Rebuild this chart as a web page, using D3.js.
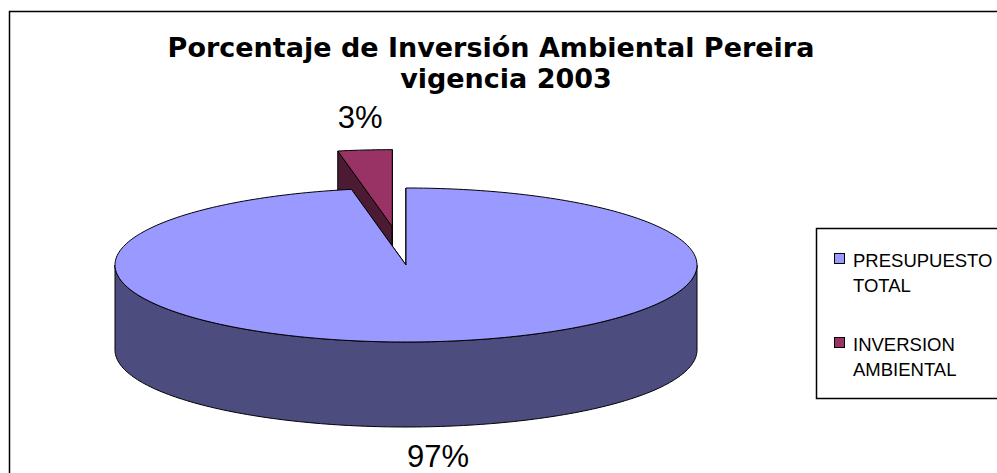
<!DOCTYPE html>
<html>
<head>
<meta charset="utf-8">
<script src="https://cdn.jsdelivr.net/npm/d3@7"></script>
<style>
  body { margin: 0; background: #fff; }
  svg { display: block; }
</style>
</head>
<body>
<svg id="chart"></svg>
<script>
// data
var categories = ["PRESUPUESTO TOTAL", "INVERSION AMBIENTAL"];
var values = [97, 3];
var labels = ["97%", "3%"];
var exploded = [0, 0.5];
var titleLines = ["Porcentaje de Inversión Ambiental Pereira", "vigencia 2003"];

var W = 997, H = 473;
var topColors = ["#9999ff", "#993366"];
var wallColors = ["#4c4c7f", "#4d1a33"];

var svg = d3.select('#chart')
    .attr('width', W)
    .attr('height', H);

// chart frame
svg.append('rect')
    .attr('x', 9.5).attr('y', 11.5)
    .attr('width', W + 20).attr('height', H + 20)
    .attr('fill', '#fff')
    .attr('stroke', '#000')
    .attr('stroke-width', 1.5);

// title (second line sits a bit right, as in the original)
svg.append('g').selectAll('text')
    .data(titleLines)
    .enter().append('text')
    .attr('x', function(d, i) { return i === 0 ? 491 : 506; })
    .attr('y', function(d, i) { return 57 + i * 31; })
    .attr('text-anchor', 'middle')
    .attr('font-family', 'DejaVu Sans, Verdana, sans-serif')
    .attr('font-weight', 'bold')
    .attr('font-size', '27px')
    .attr('fill', '#000')
    .text(function(d) { return d; });

// 3D pie geometry
var cx = 406, cy = 265, rx = 291, ry = 77, depth = 85;

var pie = d3.pie().sort(null).startAngle(0).endAngle(2 * Math.PI);
var arcs = pie(values);

function proj(a, r, z, off) {
    return [cx + off[0] + r * rx * Math.sin(a), cy + off[1] - r * ry * Math.cos(a) + z];
}
function offsetOf(d, i) {
    var m = (d.startAngle + d.endAngle) / 2;
    return [exploded[i] * rx * Math.sin(m), -exploded[i] * ry * Math.cos(m)];
}
function arcPts(a0, a1, z, off) {
    var n = Math.max(2, Math.ceil(Math.abs(a1 - a0) / 0.02)), pts = [];
    for (var k = 0; k <= n; k++) pts.push(proj(a0 + (a1 - a0) * k / n, 1, z, off));
    return pts;
}
var line = d3.line();

function topPath(d, off) {
    var pts = [proj(0, 0, 0, off)].concat(arcPts(d.startAngle, d.endAngle, 0, off));
    return line(pts) + 'Z';
}
function wallPath(d, off) {
    var a0 = Math.max(d.startAngle, Math.PI / 2), a1 = Math.min(d.endAngle, 3 * Math.PI / 2);
    if (a1 <= a0) return null;
    var pts = arcPts(a0, a1, 0, off).concat(arcPts(a1, a0, depth, off));
    return line(pts) + 'Z';
}
function facePath(a, off) {
    var pts = [proj(a, 0, 0, off), proj(a, 1, 0, off), proj(a, 1, depth, off), proj(a, 0, depth, off)];
    return line(pts) + 'Z';
}

// back slices first
var order = arcs.map(function(d, i) { return i; })
    .sort(function(a, b) { return exploded[b] - exploded[a]; });

var pieG = svg.append('g').attr('id', 'pie');

order.forEach(function(i) {
    var d = arcs[i], off = offsetOf(d, i);
    var g = pieG.append('g').attr('class', 'slice');
    [d.startAngle, d.endAngle].forEach(function(a) {
        g.append('path')
            .attr('d', facePath(a, off))
            .attr('fill', wallColors[i])
            .attr('stroke', '#000')
            .attr('stroke-width', 1)
            .attr('stroke-linejoin', 'round');
    });
    var wp = wallPath(d, off);
    if (wp) {
        g.append('path')
            .attr('d', wp)
            .attr('fill', wallColors[i])
            .attr('stroke', '#000')
            .attr('stroke-width', 1)
            .attr('stroke-linejoin', 'round');
    }
    g.append('path')
        .attr('d', topPath(d, off))
        .attr('fill', topColors[i])
        .attr('stroke', '#000')
        .attr('stroke-width', 1)
        .attr('stroke-linejoin', 'round');
});

// data labels
svg.append('g').selectAll('text')
    .data(arcs)
    .enter().append('text')
    .attr('text-anchor', 'middle')
    .attr('font-family', 'Liberation Sans, Arial, sans-serif')
    .attr('font-size', '31px')
    .attr('fill', '#000')
    .attr('x', function(d, i) {
        var m = (d.startAngle + d.endAngle) / 2;
        return proj(m, 1.17, 0, offsetOf(d, i))[0];
    })
    .attr('y', function(d, i) {
        var m = (d.startAngle + d.endAngle) / 2;
        var p = proj(m, 1.17, 0, offsetOf(d, i));
        return Math.cos(m) < 0 ? p[1] + depth + 27 : p[1] - 9;
    })
    .text(function(d, i) { return labels[i]; });

// legend
var legend = svg.append('g').attr('id', 'legend');
legend.append('rect')
    .attr('x', 816.5).attr('y', 228.5)
    .attr('width', 200).attr('height', 170)
    .attr('fill', '#fff')
    .attr('stroke', '#000')
    .attr('stroke-width', 1.5);

var items = legend.selectAll('g.item')
    .data(categories)
    .enter().append('g')
    .attr('class', 'item')
    .attr('transform', function(d, i) { return 'translate(834,' + (253 + i * 84) + ')'; });

items.append('rect')
    .attr('x', 0.5).attr('y', 0.5)
    .attr('width', 10).attr('height', 10)
    .attr('fill', function(d, i) { return topColors[i]; })
    .attr('stroke', '#000')
    .attr('stroke-width', 1);

items.append('text')
    .attr('font-family', 'Liberation Sans, Arial, sans-serif')
    .attr('font-size', '18.5px')
    .attr('fill', '#000')
    .selectAll('tspan')
    .data(function(d) { return d.split(' '); })
    .enter().append('tspan')
    .attr('x', 19)
    .attr('y', function(d, j) { return 14 + j * 25; })
    .text(function(d) { return d; });
</script>
</body>
</html>
